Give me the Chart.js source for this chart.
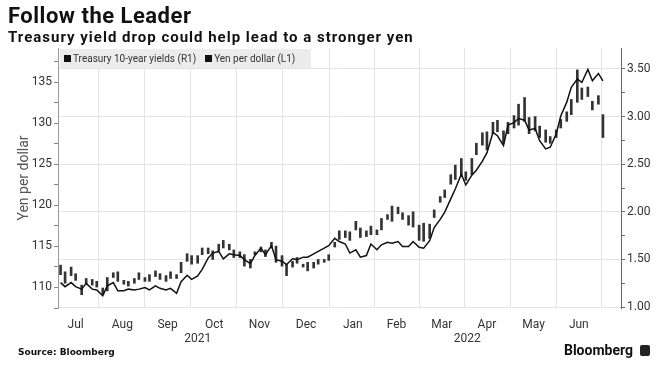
<!DOCTYPE html>
<html>
<head>
<meta charset="utf-8">
<script src="https://cdn.jsdelivr.net/npm/chart.js@4.4.0/dist/chart.umd.min.js"></script>
<style>
  html, body { margin: 0; padding: 0; background: #fff; }
  body { width: 660px; height: 365px; position: relative; overflow: hidden; }
  #chart { position: absolute; left: 0; top: 0; }
  .title { position: absolute; left: 8px; top: 3px; font: bold 22px Roboto, sans-serif; letter-spacing: 0.5px; color: #111; }
  .subtitle { position: absolute; left: 8px; top: 28px; font: bold 15px Roboto, sans-serif; letter-spacing: 1px; color: #111; }
  .legend { position: absolute; left: 60px; top: 49px; width: 251px; height: 19px; background: #ececec;
            font: 10px Roboto, sans-serif; color: #333; line-height: 19px; white-space: nowrap; }
  .legend span.sq { display: inline-block; width: 7px; height: 7px; background: #111; margin: 0 2px 0 4px; vertical-align: 0px; }
  .source { position: absolute; left: 18px; top: 347px; font: bold 9px "DejaVu Sans", sans-serif; color: #111; }
  .brand { position: absolute; right: 27px; top: 342px; font: bold 14px Roboto, sans-serif; color: #111; }
  .logo { position: absolute; left: 640px; top: 345px; width: 10px; height: 11px; background: #222; border-radius: 2px; }
</style>
</head>
<body>
<canvas id="chart" width="660" height="365"></canvas>
<div class="title">Follow the Leader</div>
<div class="subtitle">Treasury yield drop could help lead to a stronger yen</div>
<div class="legend"><span class="sq"></span>Treasury 10-year yields (R1) &nbsp;<span class="sq"></span>Yen per dollar (L1)</div>
<div class="source">Source: Bloomberg</div>
<div class="brand">Bloomberg</div>
<div class="logo"></div>
<script>
// Tue / Fri sample dates
const dates = [
  '2021-07-06','2021-07-09','2021-07-13','2021-07-16','2021-07-20','2021-07-23','2021-07-27','2021-07-30',
  '2021-08-03','2021-08-06','2021-08-10','2021-08-13','2021-08-17','2021-08-20','2021-08-24','2021-08-27',
  '2021-08-31','2021-09-03','2021-09-07','2021-09-10','2021-09-14','2021-09-17','2021-09-21','2021-09-24',
  '2021-09-28','2021-10-01','2021-10-05','2021-10-08','2021-10-12','2021-10-15','2021-10-19','2021-10-22',
  '2021-10-26','2021-10-29','2021-11-02','2021-11-05','2021-11-09','2021-11-12','2021-11-16','2021-11-19',
  '2021-11-23','2021-11-26','2021-11-30','2021-12-03','2021-12-07','2021-12-10','2021-12-14','2021-12-17',
  '2021-12-21','2021-12-24','2021-12-28','2021-12-31','2022-01-04','2022-01-07','2022-01-11','2022-01-14',
  '2022-01-18','2022-01-21','2022-01-25','2022-01-28','2022-02-01','2022-02-04','2022-02-08','2022-02-11',
  '2022-02-15','2022-02-18','2022-02-22','2022-02-25','2022-03-01','2022-03-04','2022-03-08','2022-03-11',
  '2022-03-15','2022-03-18','2022-03-22','2022-03-25','2022-03-29','2022-04-01','2022-04-05','2022-04-08',
  '2022-04-12','2022-04-15','2022-04-19','2022-04-22','2022-04-26','2022-04-29','2022-05-03','2022-05-06',
  '2022-05-10','2022-05-13','2022-05-17','2022-05-20','2022-05-24','2022-05-27','2022-05-31','2022-06-03',
  '2022-06-07','2022-06-10','2022-06-14','2022-06-17','2022-06-21','2022-06-24','2022-06-28','2022-07-01'
];

// Treasury 10-year yield range (low / high), %
const tsyLow = [
  1.34,1.25,1.33,1.28,1.13,1.24,1.23,1.21,1.13,1.17,1.31,1.27,1.24,1.22,1.25,1.29,1.27,1.27,1.32,1.29,1.27,1.30,1.30,1.36,1.48,1.45,
  1.46,1.55,1.56,1.50,1.59,1.62,1.60,1.52,1.52,1.43,1.41,1.55,1.58,1.53,1.62,1.47,1.43,1.33,1.42,1.46,1.42,1.38,1.41,1.45,1.47,1.49,
  1.63,1.71,1.73,1.70,1.81,1.73,1.74,1.76,1.76,1.81,1.92,1.90,1.98,1.92,1.86,1.84,1.70,1.69,1.72,1.94,2.10,2.15,2.29,2.34,2.37,2.33,
  2.39,2.60,2.70,2.65,2.82,2.84,2.72,2.82,2.88,2.91,2.95,2.82,2.85,2.78,2.73,2.72,2.78,2.88,2.95,3.02,3.15,3.18,3.21,3.07,3.13,2.78
];
const tsyHigh = [
  1.44,1.37,1.42,1.35,1.23,1.30,1.29,1.27,1.20,1.31,1.36,1.37,1.28,1.27,1.30,1.36,1.31,1.34,1.38,1.35,1.33,1.37,1.34,1.47,1.56,1.54,
  1.54,1.62,1.62,1.59,1.66,1.70,1.66,1.60,1.58,1.55,1.50,1.58,1.63,1.60,1.68,1.64,1.54,1.45,1.48,1.52,1.45,1.47,1.47,1.50,1.50,1.55,
  1.68,1.80,1.80,1.79,1.90,1.83,1.80,1.85,1.81,1.93,1.97,2.06,2.05,1.99,1.96,2.00,1.86,1.88,1.87,2.02,2.16,2.23,2.39,2.49,2.56,2.42,
  2.56,2.72,2.83,2.84,2.94,2.96,2.85,2.94,3.01,3.13,3.20,2.99,3.00,2.90,2.86,2.79,2.86,2.97,3.05,3.18,3.49,3.30,3.31,3.16,3.22,3.02
];

// Yen per dollar
const yen = [
  110.6,110.1,110.6,110.1,109.8,110.5,109.8,109.7,109.0,110.2,110.6,109.6,109.6,109.8,109.7,109.8,110.0,109.7,110.2,109.9,109.7,109.9,109.3,110.7,111.5,111.0,
  111.4,112.2,113.6,114.2,114.4,113.5,114.1,114.0,113.9,113.4,112.9,113.9,114.8,114.0,115.1,113.4,113.2,112.8,113.5,113.4,113.7,113.7,114.1,114.4,114.8,115.1,
  116.0,115.6,115.3,114.2,114.6,113.7,113.9,115.3,114.6,115.2,115.5,115.4,115.6,115.0,115.0,115.6,114.9,114.8,115.7,117.3,118.3,119.2,120.8,122.0,123.8,122.5,
  123.7,124.3,125.4,126.4,128.9,128.5,127.3,129.8,130.1,130.6,130.4,129.2,129.4,127.9,126.9,127.1,128.7,130.9,132.6,134.4,135.4,135.0,136.6,135.2,136.1,135.2
];

// axis ticks
const monthTicks = ['2021-07-16','2021-08-16','2021-09-15','2021-10-16','2021-11-15','2021-12-16',
                    '2022-01-16','2022-02-14','2022-03-16','2022-04-15','2022-05-16','2022-06-15'];
const monthLabels = ['Jul','Aug','Sep','Oct','Nov','Dec','Jan','Feb','Mar','Apr','May','Jun'];
const yearTicks = ['2021-10-05','2022-04-02'];
const yearLabels = ['2021','2022'];
const yenTicks = [107.5,110,112.5,115,117.5,120,122.5,125,127.5,130,132.5,135,137.5];
const yenLabels = ['','110','','115','','120','','125','','130','','135',''];
const tsyTicks = [1,1.25,1.5,1.75,2,2.25,2.5,2.75,3,3.25,3.5];
const tsyLabels = ['1.00','','1.50','','2.00','','2.50','','3.00','','3.50'];

const origin = Date.UTC(2021, 6, 1);
function dayIndex(s) {
  const p = s.split('-').map(Number);
  return (Date.UTC(p[0], p[1] - 1, p[2]) - origin) / 86400000;
}

const X_MIN = 3.3, X_MAX = 377;
const tickFont = { family: 'Roboto', size: 12 };

const ctx = document.getElementById('chart').getContext('2d');
new Chart(ctx, {
  type: 'bar',
  data: {
    datasets: [
      {
        type: 'line',
        label: 'Yen per dollar (L1)',
        data: dates.map((d, i) => ({ x: dayIndex(d), y: yen[i] })),
        yAxisID: 'yL',
        borderColor: '#111',
        borderWidth: 1.5,
        pointRadius: 0,
        tension: 0
      },
      {
        type: 'bar',
        label: 'Treasury 10-year yields (R1)',
        data: dates.map((d, i) => ({ x: dayIndex(d), y: [tsyLow[i], tsyHigh[i]] })),
        yAxisID: 'yR',
        backgroundColor: '#333',
        barThickness: 2
      }
    ]
  },
  options: {
    responsive: false,
    animation: false,
    layout: { padding: { left: 8, right: 0, top: 48, bottom: 17 } },
    plugins: { legend: { display: false }, tooltip: { enabled: false } },
    scales: {
      x: {
        type: 'linear', position: 'bottom', weight: 0, offset: false,
        min: X_MIN, max: X_MAX,
        afterBuildTicks: s => { s.ticks = monthTicks.map(d => ({ value: dayIndex(d) })); },
        afterFit: s => { s.height = 24; },
        ticks: { callback: (v, i) => monthLabels[i], autoSkip: false, maxRotation: 0, padding: 10, color: '#333', font: tickFont },
        grid: { offset: true, color: '#e4e4e4', drawTicks: false },
        border: { display: false }
      },
      xYear: {
        type: 'linear', position: 'bottom', weight: 1, offset: false,
        min: X_MIN, max: X_MAX,
        afterBuildTicks: s => { s.ticks = yearTicks.map(d => ({ value: dayIndex(d) })); },
        afterFit: s => { s.height = 16; },
        ticks: { callback: (v, i) => yearLabels[i], autoSkip: false, maxRotation: 0, padding: 0, color: '#333', font: tickFont },
        grid: { display: false, drawTicks: false },
        border: { display: false }
      },
      yL: {
        position: 'left',
        min: 107.5, max: 139.2,
        afterBuildTicks: s => { s.ticks = yenTicks.map(v => ({ value: v })); },
        afterFit: s => { s.width = 50; },
        ticks: { callback: (v, i) => yenLabels[i], autoSkip: false, padding: 2, color: '#333', font: tickFont },
        grid: { drawOnChartArea: false, tickLength: 4, color: '#888' },
        border: { color: '#999' },
        title: { display: true, text: 'Yen per dollar', color: '#555', font: { family: 'Roboto', size: 14 }, padding: { top: 8, bottom: 0 } }
      },
      yR: {
        position: 'right',
        min: 0.99, max: 3.72,
        afterBuildTicks: s => { s.ticks = tsyTicks.map(v => ({ value: v })); },
        afterFit: s => { s.width = 39; },
        ticks: { callback: (v, i) => tsyLabels[i], autoSkip: false, padding: 2, color: '#333', font: tickFont },
        grid: {
          color: c => (c.index % 2 === 0 ? '#e4e4e4' : 'rgba(0,0,0,0)'),
          tickColor: '#666', tickLength: 4
        },
        border: { color: '#666' }
      }
    }
  }
});
</script>
</body>
</html>
